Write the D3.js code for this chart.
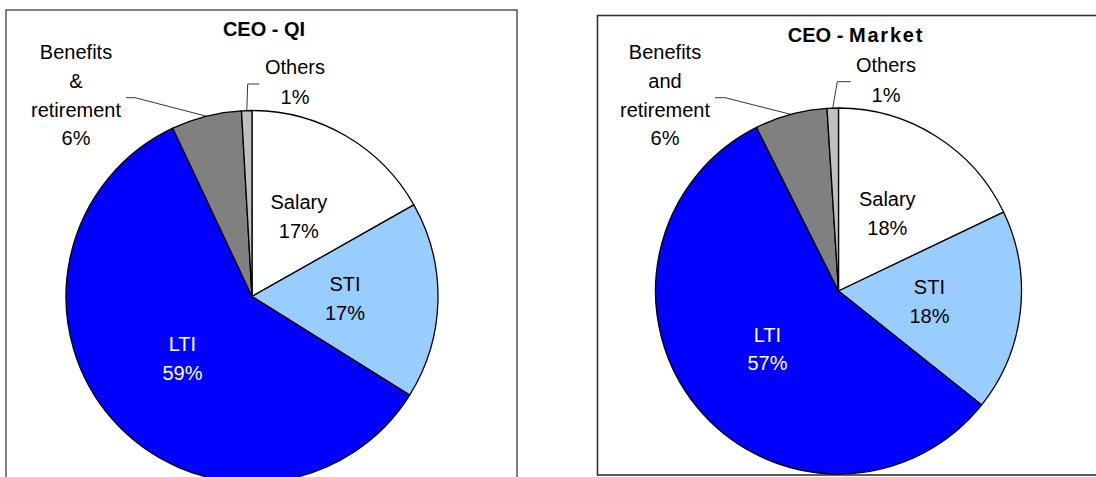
<!DOCTYPE html>
<html>
<head>
<meta charset="utf-8">
<script src="https://cdn.jsdelivr.net/npm/d3@7/dist/d3.min.js"></script>
<style>
  body { margin: 0; background: #fff; }
  svg text { font-family: 'Liberation Sans', Arial, sans-serif; }
</style>
</head>
<body>
<svg id="chart" width="1096" height="477"></svg>
<script>
// categories, clockwise from 12 o'clock
const categories = ['Salary', 'STI', 'LTI', 'Benefits', 'Others']
const sliceColors = ['#ffffff', '#99ccff', '#0000ff', '#808080', '#c0c0c0']
const textColors = ['#000', '#000', '#fff', '#000', '#000']

// share of total pay (%)
const qiValues = [16.8, 17.1, 59.1, 6.1, 0.9]
const marketValues = [17.9, 17.8, 56.9, 6.4, 1.0]

// label text lines per chart
const qiLabels = [['Salary'], ['STI'], ['LTI'], ['Benefits', '&', 'retirement'], ['Others']]
const marketLabels = [['Salary'], ['STI'], ['LTI'], ['Benefits', 'and', 'retirement'], ['Others']]

const titles = [['CEO - QI', ''], ['CEO - ', 'Market']]

// layout of the two panels
const panels = [
  {
    box: { x: 6, y: 10, w: 511, h: 490 }, stroke: '#000', strokeWidth: 1,
    cx: 252, cy: 296.5, r: 186,
    title: { x: 264, y: 36 },
    outside: {
      3: { x: 76, y: 59.3, elbow: [135, 97.7], end: [126, 97.7] },
      4: { x: 295, y: 74, elbow: [247.7, 84], end: [259.3, 84], line: 30 }
    }
  },
  {
    box: { x: 597.5, y: 15.5, w: 520, h: 459.5 }, stroke: '#333', strokeWidth: 1.6,
    cx: 838.5, cy: 291, r: 183,
    title: { x: 856, y: 41.7 },
    outside: {
      3: { x: 665, y: 59.3, elbow: [725, 97.7], end: [715, 97.7] },
      4: { x: 886, y: 71.7, elbow: [837.3, 81.7], end: [850.7, 81.7], line: 30 }
    }
  }
]

const fontSize = 20
const lineHeight = 28.6

const svg = d3.select('#chart')

function drawPie (panel, values, labels, title) {
  const g = svg.append('g')

  g.append('rect')
    .attr('x', panel.box.x)
    .attr('y', panel.box.y)
    .attr('width', panel.box.w)
    .attr('height', panel.box.h)
    .attr('fill', '#fff')
    .attr('stroke', panel.stroke)
    .attr('stroke-width', panel.strokeWidth)

  const t = g.append('text')
    .attr('x', panel.title.x)
    .attr('y', panel.title.y)
    .attr('text-anchor', 'middle')
    .attr('font-size', fontSize)
    .attr('font-weight', 'bold')
  t.append('tspan').text(title[0])
  if (title[1]) t.append('tspan').attr('letter-spacing', 1.8).text(title[1])

  const pie = d3.pie().sort(null).value(d => d)
  const arcs = pie(values)
  const arc = d3.arc().innerRadius(0).outerRadius(panel.r)
  const labelArc = d3.arc().innerRadius(panel.r * 0.5).outerRadius(panel.r * 0.5)
  const rimArc = d3.arc().innerRadius(panel.r).outerRadius(panel.r)

  const pieG = g.append('g').attr('transform', `translate(${panel.cx}, ${panel.cy})`)

  pieG.selectAll('path.slice')
    .data(arcs)
    .enter()
    .append('path')
      .attr('class', 'slice')
      .attr('d', arc)
      .attr('fill', (d, i) => sliceColors[i])
      .attr('stroke', '#000')
      .attr('stroke-width', 1.3)
      .attr('stroke-linejoin', 'round')

  arcs.forEach((d, i) => {
    const lines = labels[i].concat([Math.round(d.data) + '%'])
    const out = panel.outside[i]
    if (out) {
      // leader line from rim at mid angle
      const [sx, sy] = rimArc.centroid(d)
      g.append('path')
        .attr('d', d3.line()([[panel.cx + sx, panel.cy + sy], out.elbow, out.end]))
        .attr('fill', 'none')
        .attr('stroke', '#000')
        .attr('stroke-width', 0.8)
      const lh = out.line || lineHeight
      const txt = g.append('text')
        .attr('text-anchor', 'middle')
        .attr('font-size', fontSize)
        .attr('fill', textColors[i])
      lines.forEach((s, k) => {
        txt.append('tspan').attr('x', out.x).attr('y', out.y + k * lh).text(s)
      })
    } else {
      const [lx, ly] = labelArc.centroid(d)
      const x = panel.cx + lx
      const y0 = panel.cy + ly - (lines.length - 1) * lineHeight / 2 + fontSize * 0.36
      const txt = g.append('text')
        .attr('text-anchor', 'middle')
        .attr('font-size', fontSize)
        .attr('fill', textColors[i])
      lines.forEach((s, k) => {
        txt.append('tspan').attr('x', x).attr('y', y0 + k * lineHeight).text(s)
      })
    }
  })
}

drawPie(panels[0], qiValues, qiLabels, titles[0])
drawPie(panels[1], marketValues, marketLabels, titles[1])
</script>
</body>
</html>
